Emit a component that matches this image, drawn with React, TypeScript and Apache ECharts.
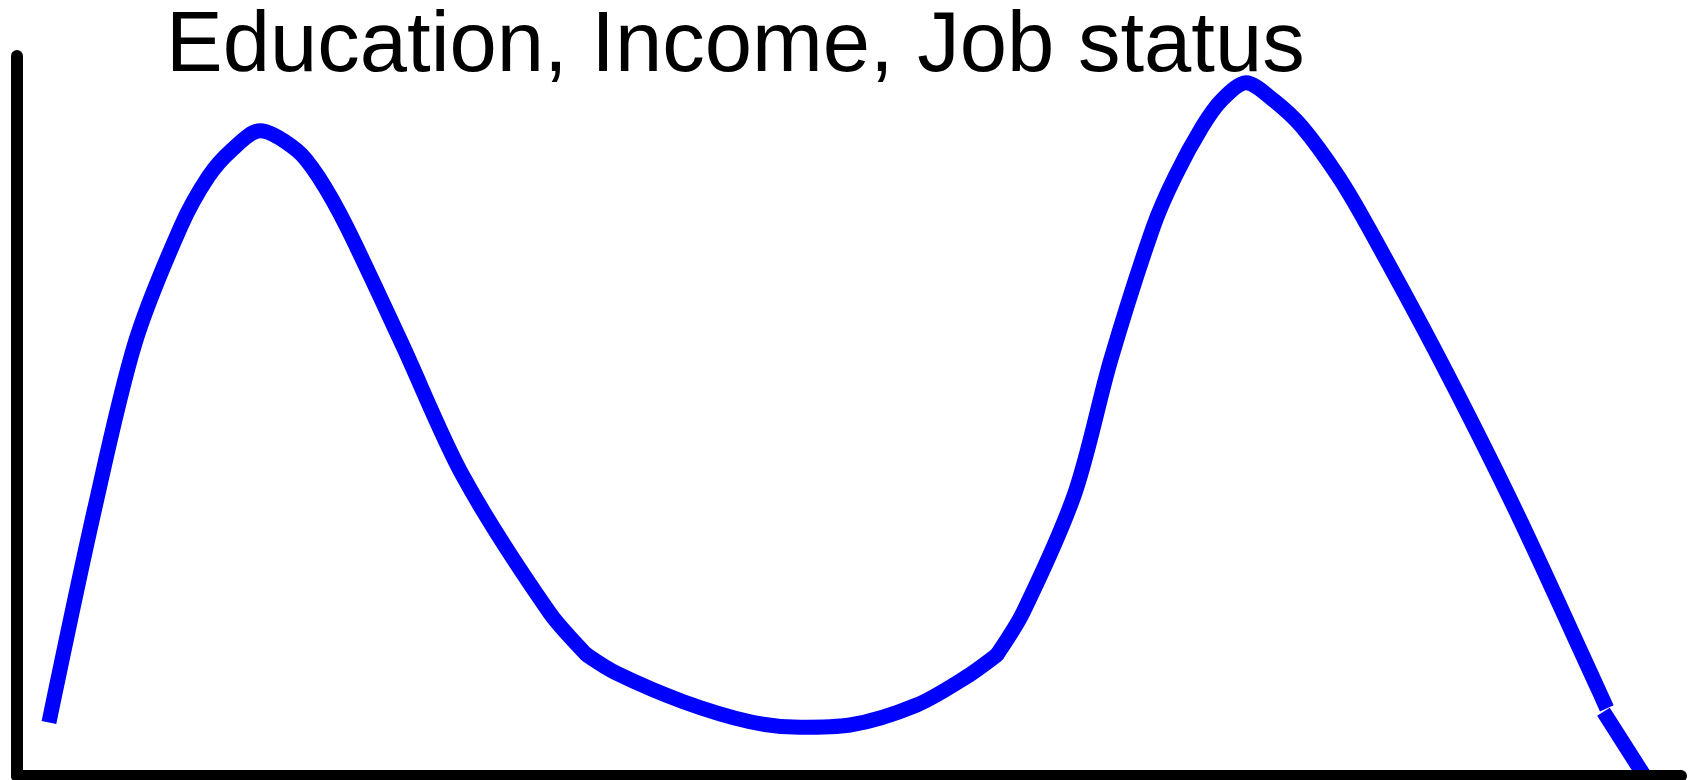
import React, { useEffect, useRef } from "react";
import * as echarts from "echarts";

const titleText = "Education, Income, Job status";

// [x, y] in axis units (0-100 on both axes)
const leftHump: number[][] = [
  [1.92, 7.44], [4.65, 36.94], [7.09, 60.1], [9.84, 76.29], [11.5, 83.24],
  [12.9, 86.94], [14.6, 89.63], [16.81, 86.94], [18.11, 83.24], [19.81, 76.29],
  [23.12, 60.1], [26.82, 41.57], [32.03, 22.6], [34.25, 16.81],
];

const valley: number[][] = [
  [34.25, 16.81], [36.04, 14.26], [40.04, 10.32], [44.05, 7.54], [47.06, 6.76],
  [50.06, 7.08], [54.07, 9.86], [57.07, 13.79], [58.88, 16.81],
];

const rightHump: number[][] = [
  [58.88, 16.81], [60.48, 22.82], [63.58, 39.31], [65.73, 57.78], [68.29, 76.29],
  [69.59, 83.24], [71.23, 90.18], [72.4, 93.89], [73.86, 96.29], [75.5, 93.89],
  [77.21, 90.18], [79.41, 83.24], [81.19, 76.29], [85.52, 57.78], [90.02, 37.08],
  [94.77, 13.33], [95.54, 9.4],
];

const tail: number[][] = [
  [95.34, 8.93], [97.8, 0],
];

const BLUE = "#0000ff";
const LINE_W = 15;

export default function App() {
  const ref = useRef<HTMLDivElement>(null);
  useEffect(() => {
    document.body.style.margin = "0";
    const chart = echarts.init(ref.current!, null, { renderer: "svg" });
    const seg = (data: number[][], smooth: number | boolean, cap: string) => ({
      type: "line",
      data,
      smooth,
      symbol: "none",
      clip: false,
      lineStyle: { color: BLUE, width: LINE_W, cap, join: "miter" },
      z: 2,
    });
    chart.setOption({
      animation: false,
      backgroundColor: "#ffffff",
      title: {
        text: titleText,
        left: 166,
        top: 6,
        padding: 0,
        textStyle: {
          fontFamily: "Liberation Sans",
          fontSize: 85,
          lineHeight: 70,
          fontWeight: "normal",
          color: "#000000",
        },
      },
      grid: { left: 17, right: 8, top: 56, bottom: 4 },
      xAxis: {
        type: "value",
        min: 0,
        max: 100,
        z: 5,
        axisLine: { show: true, onZero: false, lineStyle: { color: "#000", width: 12 } },
        axisTick: { show: false },
        axisLabel: { show: false },
        splitLine: { show: false },
      },
      yAxis: {
        type: "value",
        min: 0,
        max: 100,
        z: 5,
        axisLine: { show: true, onZero: false, lineStyle: { color: "#000", width: 12 } },
        axisTick: { show: false },
        axisLabel: { show: false },
        splitLine: { show: false },
      },
      series: [
        seg(leftHump, 0.3, "butt"),
        seg(valley, 0.3, "round"),
        seg(rightHump, 0.3, "butt"),
        seg(tail, false, "butt"),
      ],
    });
    return () => chart.dispose();
  }, []);
  return (
    <div
      ref={ref}
      style={{ position: "absolute", left: 0, top: 0, width: 1689, height: 780 }}
    />
  );
}
